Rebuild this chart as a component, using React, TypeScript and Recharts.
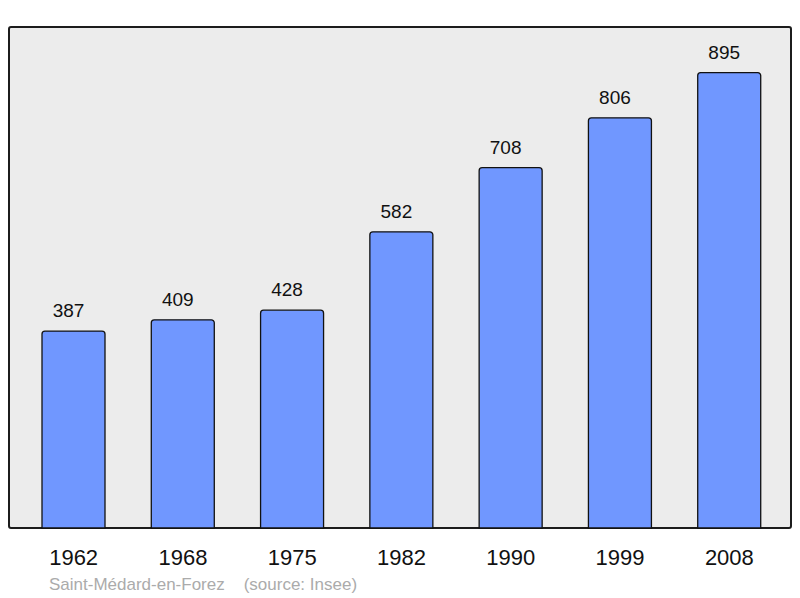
import { BarChart, Bar, XAxis, YAxis, LabelList } from 'recharts';

const years = ['1962', '1968', '1975', '1982', '1990', '1999', '2008'];
const population = [387, 409, 428, 582, 708, 806, 895];

const town = 'Saint-Médard-en-Forez';
const source = '(source: Insee)';

const data = years.map((year, i) => ({ year, population: population[i] }));

const font = '"Liberation Sans", Arial, sans-serif';

export default function App() {
  return (
    <div style={{ position: 'absolute', left: 0, top: 0, width: 800, height: 598, fontFamily: font }}>
      {/* plot frame */}
      <div
        style={{
          position: 'absolute',
          left: 8,
          top: 26,
          width: 784,
          height: 503,
          boxSizing: 'border-box',
          border: '2px solid #1c1c1c',
          borderRadius: 3,
          background: '#ececec',
        }}
      />
      <div style={{ position: 'absolute', left: 0, top: 0 }}>
        <BarChart
          width={800}
          height={598}
          data={data}
          margin={{ top: 27, right: 9, bottom: 20, left: 9 }}
        >
          <XAxis
            dataKey="year"
            height={50}
            axisLine={false}
            tickLine={false}
            tickSize={0}
            tickMargin={21}
            padding={{ left: 10, right: 7 }}
            tick={{ fill: '#111', fontSize: 22, fontFamily: font }}
            interval={0}
          />
          <YAxis hide domain={[0, 984.5]} />
          <Bar
            dataKey="population"
            fill="#7097ff"
            stroke="#111"
            strokeWidth={1.3}
            barSize={63}
            radius={[3, 3, 0, 0]}
            isAnimationActive={false}
          >
            <LabelList
              dataKey="population"
              position="top"
              offset={14}
              dx={-5}
              fill="#111"
              fontSize={19}
              fontFamily={font}
            />
          </Bar>
        </BarChart>
      </div>
      <div
        style={{
          position: 'absolute',
          left: 49,
          top: 575,
          fontSize: 17,
          color: '#ababab',
          whiteSpace: 'pre',
        }}
      >
        {town}
        {'    '}
        {source}
      </div>
    </div>
  );
}
